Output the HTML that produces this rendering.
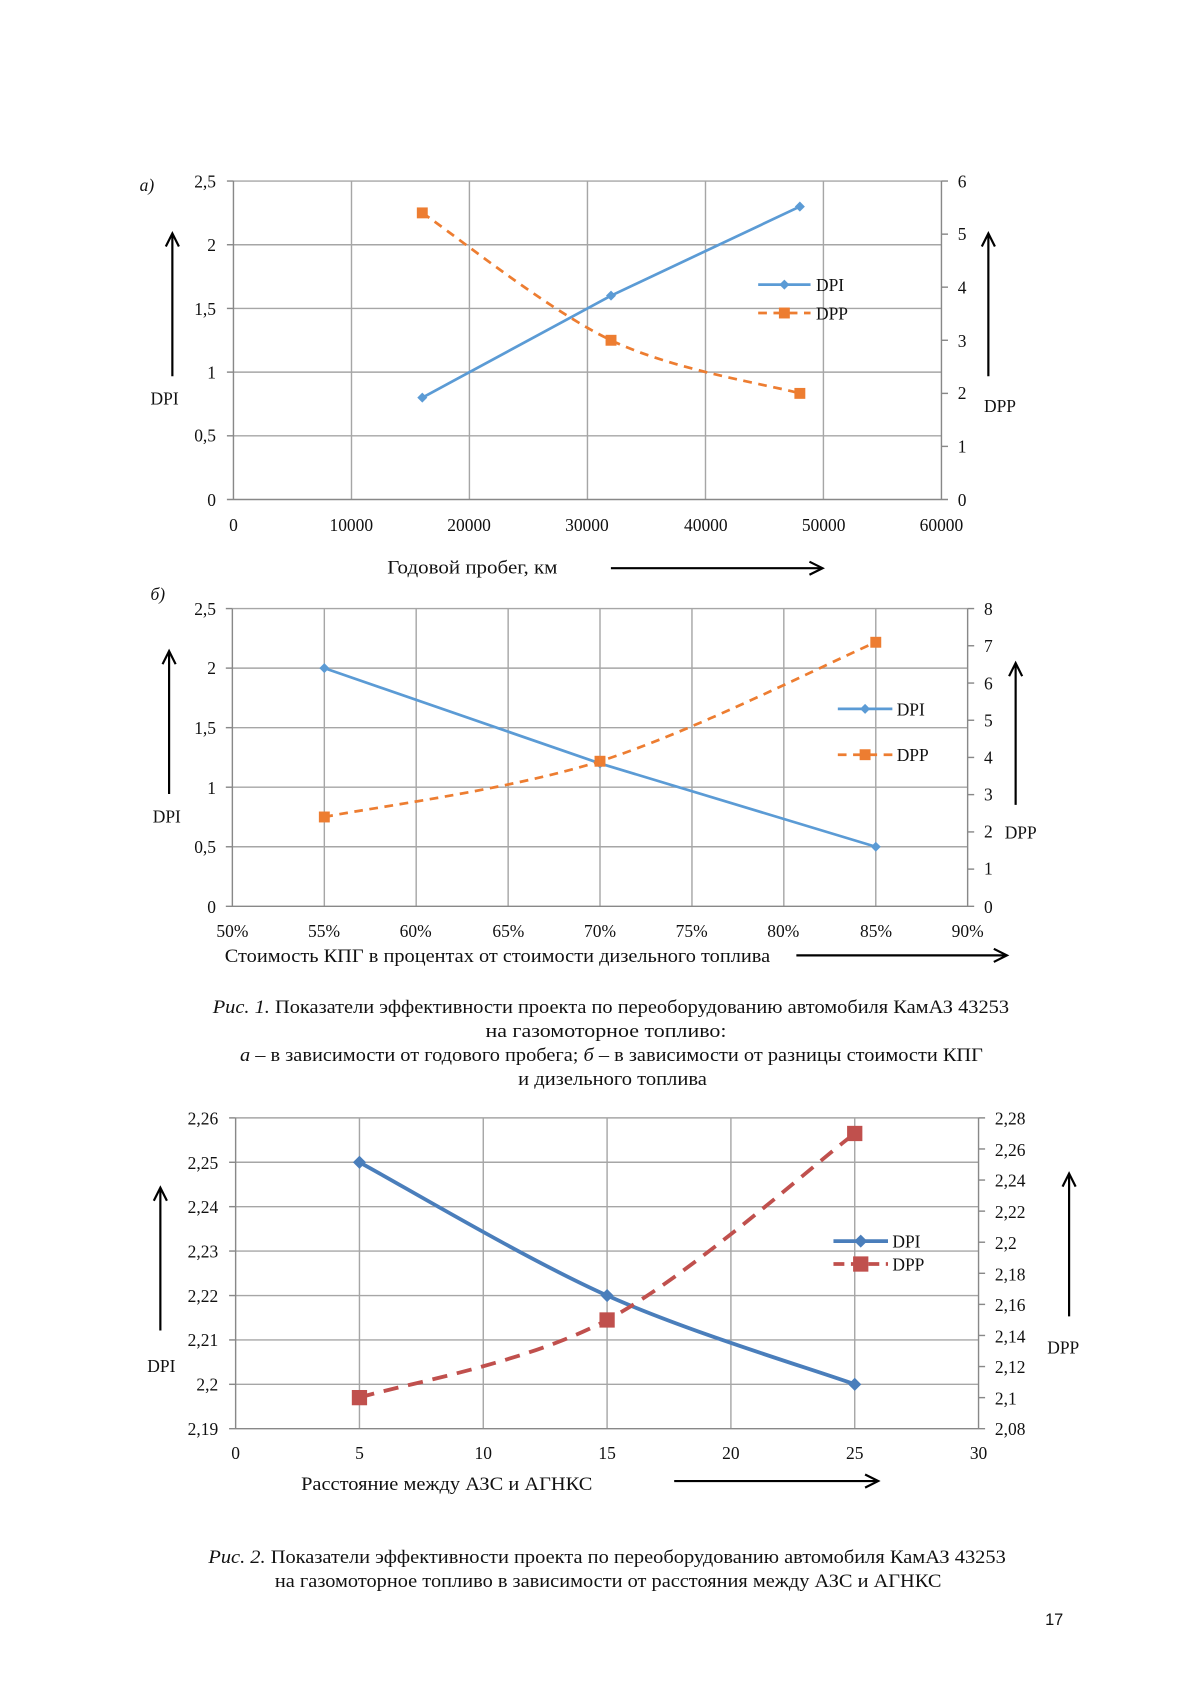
<!DOCTYPE html>
<html><head><meta charset="utf-8"><style>
html,body{margin:0;padding:0;background:#fff;}
svg{display:block;}
text{font-family:"Liberation Serif",serif;font-size:16px;fill:#111;}
.t{font-size:17.5px;}
.g{stroke:#a6a6a6;stroke-width:1.3;fill:none;}
.ax{stroke:#888;stroke-width:1.3;fill:none;}
.ar{stroke:#000;stroke-width:2;fill:none;}
</style></head><body>
<svg width="1200" height="1697" viewBox="0 0 1100 1556" preserveAspectRatio="none" xmlns="http://www.w3.org/2000/svg">
<!-- Chart a -->
<g transform="translate(-2,-1)">
<g class="g">
<line x1="216" y1="167" x2="865" y2="167"/><line x1="216" y1="225.4" x2="865" y2="225.4"/><line x1="216" y1="283.8" x2="865" y2="283.8"/><line x1="216" y1="342.2" x2="865" y2="342.2"/><line x1="216" y1="400.6" x2="865" y2="400.6"/>
<line x1="324.2" y1="167" x2="324.2" y2="459"/><line x1="432.3" y1="167" x2="432.3" y2="459"/><line x1="540.5" y1="167" x2="540.5" y2="459"/><line x1="648.7" y1="167" x2="648.7" y2="459"/><line x1="756.8" y1="167" x2="756.8" y2="459"/>
</g>
<g class="ax">
<line x1="216" y1="167" x2="216" y2="459"/><line x1="865" y1="167" x2="865" y2="459"/><line x1="210" y1="459" x2="871" y2="459"/>
<line x1="210" y1="167" x2="216" y2="167"/><line x1="210" y1="225.4" x2="216" y2="225.4"/><line x1="210" y1="283.8" x2="216" y2="283.8"/><line x1="210" y1="342.2" x2="216" y2="342.2"/><line x1="210" y1="400.6" x2="216" y2="400.6"/>
<line x1="865" y1="167" x2="871" y2="167"/><line x1="865" y1="215.7" x2="871" y2="215.7"/><line x1="865" y1="264.3" x2="871" y2="264.3"/><line x1="865" y1="313" x2="871" y2="313"/><line x1="865" y1="361.7" x2="871" y2="361.7"/><line x1="865" y1="410.3" x2="871" y2="410.3"/>
</g>
<g text-anchor="end">
<text x="200" y="173">2,5</text><text x="200" y="231">2</text><text x="200" y="290">1,5</text><text x="200" y="348">1</text><text x="200" y="406">0,5</text><text x="200" y="465">0</text>
</g>
<g>
<text x="880" y="173">6</text><text x="880" y="221">5</text><text x="880" y="270">4</text><text x="880" y="319">3</text><text x="880" y="367">2</text><text x="880" y="416">1</text><text x="880" y="465">0</text>
</g>
<g text-anchor="middle">
<text x="216" y="488">0</text><text x="324" y="488">10000</text><text x="432" y="488">20000</text><text x="540" y="488">30000</text><text x="649" y="488">40000</text><text x="757" y="488">50000</text><text x="865" y="488">60000</text>
</g>
<polyline points="389.1,365.6 562.1,272.1 735.2,190.4" fill="none" stroke="#5b9bd5" stroke-width="2.5"/>
<g fill="#5b9bd5"><path d="M389.1,361 l4.6,4.6 -4.6,4.6 -4.6,-4.6z"/><path d="M562.1,267.5 l4.6,4.6 -4.6,4.6 -4.6,-4.6z"/><path d="M735.2,185.8 l4.6,4.6 -4.6,4.6 -4.6,-4.6z"/></g>
<path d="M389.1,196.2 C417.9,215.7 504.4,285.4 562.1,313 C619.8,340.6 706.3,353.6 735.2,361.7" fill="none" stroke="#ed7d31" stroke-width="2.5" stroke-dasharray="8,6"/>
<g fill="#ed7d31"><rect x="384.1" y="191.2" width="10" height="10"/><rect x="557.1" y="308" width="10" height="10"/><rect x="730.2" y="356.7" width="10" height="10"/></g>
<line x1="697" y1="262" x2="745" y2="262" stroke="#5b9bd5" stroke-width="2.5"/><path d="M721,257.4 l4.6,4.6 -4.6,4.6 -4.6,-4.6z" fill="#5b9bd5"/>
<text x="750" y="268">DPI</text>
<line x1="697" y1="288" x2="745" y2="288" stroke="#ed7d31" stroke-width="2.5" stroke-dasharray="8,6"/><rect x="716" y="283" width="10" height="10" fill="#ed7d31"/>
<text x="750" y="294">DPP</text>
</g>
<text x="128" y="175" font-style="italic">а)</text>
<line class="ar" x1="158" y1="345" x2="158" y2="215"/><path class="ar" d="M152,226 L158,214 L164,226"/>
<text x="138" y="371">DPI</text>
<line class="ar" x1="906" y1="345" x2="906" y2="215"/><path class="ar" d="M900,226 L906,214 L912,226"/>
<text x="902" y="378">DPP</text>
<text class="t" x="355" y="526" textLength="156" lengthAdjust="spacingAndGlyphs">Годовой пробег, км</text>
<line class="ar" x1="560" y1="521" x2="753" y2="521"/><path class="ar" d="M742,515 L754,521 L742,527"/>

<!-- Chart b -->
<g class="g">
<line x1="213" y1="558" x2="887" y2="558"/><line x1="213" y1="612.6" x2="887" y2="612.6"/><line x1="213" y1="667.2" x2="887" y2="667.2"/><line x1="213" y1="721.8" x2="887" y2="721.8"/><line x1="213" y1="776.4" x2="887" y2="776.4"/>
<line x1="297.3" y1="558" x2="297.3" y2="831"/><line x1="381.5" y1="558" x2="381.5" y2="831"/><line x1="465.8" y1="558" x2="465.8" y2="831"/><line x1="550" y1="558" x2="550" y2="831"/><line x1="634.3" y1="558" x2="634.3" y2="831"/><line x1="718.5" y1="558" x2="718.5" y2="831"/><line x1="802.8" y1="558" x2="802.8" y2="831"/>
</g>
<g class="ax">
<line x1="213" y1="558" x2="213" y2="831"/><line x1="887" y1="558" x2="887" y2="831"/><line x1="207" y1="831" x2="893" y2="831"/>
<line x1="207" y1="558" x2="213" y2="558"/><line x1="207" y1="612.6" x2="213" y2="612.6"/><line x1="207" y1="667.2" x2="213" y2="667.2"/><line x1="207" y1="721.8" x2="213" y2="721.8"/><line x1="207" y1="776.4" x2="213" y2="776.4"/>
<line x1="887" y1="558" x2="893" y2="558"/><line x1="887" y1="592.1" x2="893" y2="592.1"/><line x1="887" y1="626.3" x2="893" y2="626.3"/><line x1="887" y1="660.4" x2="893" y2="660.4"/><line x1="887" y1="694.5" x2="893" y2="694.5"/><line x1="887" y1="728.6" x2="893" y2="728.6"/><line x1="887" y1="762.8" x2="893" y2="762.8"/><line x1="887" y1="796.9" x2="893" y2="796.9"/>
</g>
<g text-anchor="end">
<text x="198" y="564">2,5</text><text x="198" y="618">2</text><text x="198" y="673">1,5</text><text x="198" y="728">1</text><text x="198" y="782">0,5</text><text x="198" y="837">0</text>
</g>
<g>
<text x="902" y="564">8</text><text x="902" y="598">7</text><text x="902" y="632">6</text><text x="902" y="666">5</text><text x="902" y="700">4</text><text x="902" y="734">3</text><text x="902" y="768">2</text><text x="902" y="802">1</text><text x="902" y="837">0</text>
</g>
<g text-anchor="middle">
<text x="213" y="859">50%</text><text x="297" y="859">55%</text><text x="381" y="859">60%</text><text x="466" y="859">65%</text><text x="550" y="859">70%</text><text x="634" y="859">75%</text><text x="718" y="859">80%</text><text x="803" y="859">85%</text><text x="887" y="859">90%</text>
</g>
<polyline points="297.3,612.6 550,700 802.8,776.4" fill="none" stroke="#5b9bd5" stroke-width="2.5"/>
<g fill="#5b9bd5"><path d="M297.3,608 l4.6,4.6 -4.6,4.6 -4.6,-4.6z"/><path d="M550,695.4 l4.6,4.6 -4.6,4.6 -4.6,-4.6z"/><path d="M802.8,771.8 l4.6,4.6 -4.6,4.6 -4.6,-4.6z"/></g>
<path d="M297.3,749.1 C339.4,740.6 465.8,724.7 550,698 C634.3,671.3 760.7,607.1 802.8,588.9" fill="none" stroke="#ed7d31" stroke-width="2.5" stroke-dasharray="8,6"/>
<g fill="#ed7d31"><rect x="292.3" y="744.1" width="10" height="10"/><rect x="545" y="693" width="10" height="10"/><rect x="797.8" y="583.9" width="10" height="10"/></g>
<line x1="768" y1="650" x2="818" y2="650" stroke="#5b9bd5" stroke-width="2.5"/><path d="M793,645.4 l4.6,4.6 -4.6,4.6 -4.6,-4.6z" fill="#5b9bd5"/>
<text x="822" y="656">DPI</text>
<line x1="768" y1="692" x2="818" y2="692" stroke="#ed7d31" stroke-width="2.5" stroke-dasharray="8,6"/><rect x="788" y="687" width="10" height="10" fill="#ed7d31"/>
<text x="822" y="698">DPP</text>
<text x="138" y="550" font-style="italic">б)</text>
<line class="ar" x1="155" y1="728" x2="155" y2="598"/><path class="ar" d="M149,609 L155,597 L161,609"/>
<text x="140" y="754">DPI</text>
<line class="ar" x1="931" y1="738" x2="931" y2="609"/><path class="ar" d="M925,620 L931,608 L937,620"/>
<text x="921" y="769">DPP</text>
<text class="t" x="206" y="882" textLength="500" lengthAdjust="spacingAndGlyphs">Стоимость КПГ в процентах от стоимости дизельного топлива</text>
<line class="ar" x1="730" y1="876" x2="922" y2="876"/><path class="ar" d="M911,870 L923,876 L911,882"/>

<!-- Caption 1 -->
<text class="t" x="195" y="929" textLength="730" lengthAdjust="spacingAndGlyphs"><tspan font-style="italic">Рис. 1.</tspan> Показатели эффективности проекта по переоборудованию автомобиля КамАЗ 43253</text>
<text class="t" x="445" y="951" textLength="221" lengthAdjust="spacingAndGlyphs">на газомоторное топливо:</text>
<text class="t" x="220" y="973" textLength="681" lengthAdjust="spacingAndGlyphs"><tspan font-style="italic">а</tspan> – в зависимости от годового пробега; <tspan font-style="italic">б</tspan> – в зависимости от разницы стоимости КПГ</text>
<text class="t" x="475" y="995" textLength="173" lengthAdjust="spacingAndGlyphs">и дизельного топлива</text>

<!-- Chart 2 -->
<g class="g">
<line x1="216" y1="1025" x2="897" y2="1025"/><line x1="216" y1="1065.7" x2="897" y2="1065.7"/><line x1="216" y1="1106.4" x2="897" y2="1106.4"/><line x1="216" y1="1147.1" x2="897" y2="1147.1"/><line x1="216" y1="1187.9" x2="897" y2="1187.9"/><line x1="216" y1="1228.6" x2="897" y2="1228.6"/><line x1="216" y1="1269.3" x2="897" y2="1269.3"/>
<line x1="329.5" y1="1025" x2="329.5" y2="1310"/><line x1="443" y1="1025" x2="443" y2="1310"/><line x1="556.5" y1="1025" x2="556.5" y2="1310"/><line x1="670" y1="1025" x2="670" y2="1310"/><line x1="783.5" y1="1025" x2="783.5" y2="1310"/>
</g>
<g class="ax">
<line x1="216" y1="1025" x2="216" y2="1310"/><line x1="897" y1="1025" x2="897" y2="1310"/><line x1="210" y1="1310" x2="903" y2="1310"/>
<line x1="210" y1="1025" x2="216" y2="1025"/><line x1="210" y1="1065.7" x2="216" y2="1065.7"/><line x1="210" y1="1106.4" x2="216" y2="1106.4"/><line x1="210" y1="1147.1" x2="216" y2="1147.1"/><line x1="210" y1="1187.9" x2="216" y2="1187.9"/><line x1="210" y1="1228.6" x2="216" y2="1228.6"/><line x1="210" y1="1269.3" x2="216" y2="1269.3"/>
<line x1="897" y1="1025" x2="903" y2="1025"/><line x1="897" y1="1053.5" x2="903" y2="1053.5"/><line x1="897" y1="1082" x2="903" y2="1082"/><line x1="897" y1="1110.5" x2="903" y2="1110.5"/><line x1="897" y1="1139" x2="903" y2="1139"/><line x1="897" y1="1167.5" x2="903" y2="1167.5"/><line x1="897" y1="1196" x2="903" y2="1196"/><line x1="897" y1="1224.5" x2="903" y2="1224.5"/><line x1="897" y1="1253" x2="903" y2="1253"/><line x1="897" y1="1281.5" x2="903" y2="1281.5"/>
</g>
<g text-anchor="end">
<text x="200" y="1031">2,26</text><text x="200" y="1072">2,25</text><text x="200" y="1112">2,24</text><text x="200" y="1153">2,23</text><text x="200" y="1194">2,22</text><text x="200" y="1234">2,21</text><text x="200" y="1275">2,2</text><text x="200" y="1316">2,19</text>
</g>
<g>
<text x="912" y="1031">2,28</text><text x="912" y="1060">2,26</text><text x="912" y="1088">2,24</text><text x="912" y="1117">2,22</text><text x="912" y="1145">2,2</text><text x="912" y="1174">2,18</text><text x="912" y="1202">2,16</text><text x="912" y="1231">2,14</text><text x="912" y="1259">2,12</text><text x="912" y="1288">2,1</text><text x="912" y="1316">2,08</text>
</g>
<g text-anchor="middle">
<text x="216" y="1338">0</text><text x="329.5" y="1338">5</text><text x="443" y="1338">10</text><text x="556.5" y="1338">15</text><text x="670" y="1338">20</text><text x="783.5" y="1338">25</text><text x="897" y="1338">30</text>
</g>
<path d="M329.5,1065.7 C367.3,1086.1 480.8,1154 556.5,1187.9 C632.2,1221.8 745.7,1255.7 783.5,1269.3" fill="none" stroke="#4a7ebb" stroke-width="3.5"/>
<g fill="#4a7ebb"><path d="M329.5,1059.7 l6,6 -6,6 -6,-6z"/><path d="M556.5,1181.9 l6,6 -6,6 -6,-6z"/><path d="M783.5,1263.3 l6,6 -6,6 -6,-6z"/></g>
<path d="M329.5,1281.5 C367.3,1269.6 480.8,1250.7 556.5,1210.3 C632.2,1169.9 745.7,1067.8 783.5,1039.3" fill="none" stroke="#c0504d" stroke-width="3.5" stroke-dasharray="14,9"/>
<g fill="#c0504d"><rect x="322.5" y="1274.5" width="14" height="14"/><rect x="549.5" y="1203.3" width="14" height="14"/><rect x="776.5" y="1032.3" width="14" height="14"/></g>
<line x1="764" y1="1138" x2="814" y2="1138" stroke="#4a7ebb" stroke-width="3.5"/><path d="M789,1132 l6,6 -6,6 -6,-6z" fill="#4a7ebb"/>
<text x="818" y="1144">DPI</text>
<line x1="764" y1="1159" x2="814" y2="1159" stroke="#c0504d" stroke-width="3.5" stroke-dasharray="10,6"/><rect x="782" y="1152" width="14" height="14" fill="#c0504d"/>
<text x="818" y="1165">DPP</text>
<line class="ar" x1="147" y1="1220" x2="147" y2="1090"/><path class="ar" d="M141,1101 L147,1089 L153,1101"/>
<text x="135" y="1258">DPI</text>
<line class="ar" x1="980" y1="1207" x2="980" y2="1077"/><path class="ar" d="M974,1088 L980,1076 L986,1088"/>
<text x="960" y="1241">DPP</text>
<text class="t" x="276" y="1366" textLength="267" lengthAdjust="spacingAndGlyphs">Расстояние между АЗС и АГНКС</text>
<line class="ar" x1="618" y1="1358" x2="804" y2="1358"/><path class="ar" d="M793,1352 L805,1358 L793,1364"/>

<!-- Caption 2 -->
<text class="t" x="191" y="1433" textLength="731" lengthAdjust="spacingAndGlyphs"><tspan font-style="italic">Рис. 2.</tspan> Показатели эффективности проекта по переоборудованию автомобиля КамАЗ 43253</text>
<text class="t" x="252" y="1455" textLength="611" lengthAdjust="spacingAndGlyphs">на газомоторное топливо в зависимости от расстояния между АЗС и АГНКС</text>
<text x="958" y="1490" style="font-family:'Liberation Sans',sans-serif;font-size:15px">17</text>
</svg>
</body></html>
